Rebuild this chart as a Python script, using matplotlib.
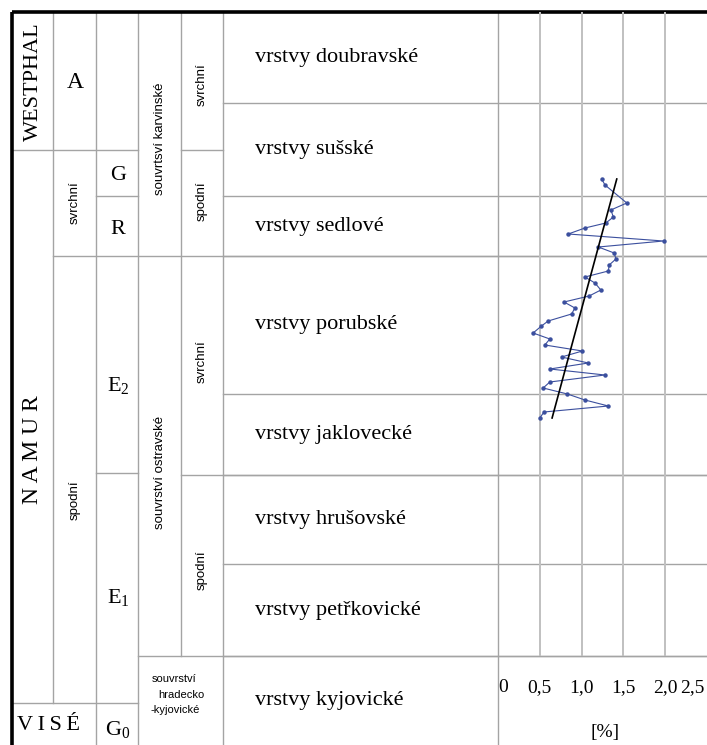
import numpy as np
import matplotlib
matplotlib.use("Agg")
import matplotlib.pyplot as plt
from matplotlib import font_manager as fm

# sample depth in the profile (units of the table height) and measured value [%]
depths = np.array([167, 173, 191, 198, 205, 211, 216, 222, 229, 235, 241, 247, 253,
                   259, 265, 271, 278, 284, 290, 296, 302, 309, 314, 321, 327, 333,
                   339, 345, 351, 357, 363, 370, 376, 382, 388, 394, 400, 406])
values = np.array([1.24, 1.28, 1.54, 1.35, 1.38, 1.29, 1.04, 0.84, 1.98, 1.20, 1.39,
                   1.41, 1.33, 1.32, 1.04, 1.16, 1.23, 1.09, 0.79, 0.92, 0.88, 0.60,
                   0.52, 0.42, 0.62, 0.56, 1.01, 0.76, 1.08, 0.62, 1.28, 0.62, 0.54,
                   0.83, 1.04, 1.32, 0.55, 0.50])

tick_values = [0, 0.5, 1.0, 1.5, 2.0, 2.5]
tick_labels = ["0", "0,5", "1,0", "1,5", "2,0", "2,5"]

# formations (vrstvy) with their lower boundaries
formations = ["vrstvy doubravské", "vrstvy sušské", "vrstvy sedlové", "vrstvy porubské",
              "vrstvy jaklovecké", "vrstvy hrušovské", "vrstvy petřkovické",
              "vrstvy kyjovické"]
formation_bounds = [0, 91, 184, 244, 382, 463, 552, 644, 733]

# pick fonts
names = {f.name for f in fm.fontManager.ttflist}
def pick(cands, default):
    for c in cands:
        if c in names:
            return c
    return default

SERIF = "Liberation Serif"
SANS = pick(["Liberation Sans Narrow", "DejaVu Sans Condensed"], "Liberation Sans")
sans_size = 11 if SANS != "Liberation Sans" else 9.5

plt.rcParams["mathtext.fontset"] = "custom"
plt.rcParams["mathtext.rm"] = SERIF
plt.rcParams["mathtext.it"] = SERIF

fig = plt.figure(figsize=(7.07, 7.45), dpi=100)
ax = fig.add_axes([0, 0, 1, 1])
ax.set_xlim(0, 707)
ax.set_ylim(733, -12)
ax.axis("off")

# column edges (px)
c0, c1, c2, c3, c4, c5, c6, c7 = 12, 53, 96, 138, 181, 223, 498, 707
grey = "#a4a4a4"

vlines = [(c1, 0, 691), (c2, 0, 733), (c3, 0, 733), (c4, 0, 644), (c5, 0, 733), (c6, 0, 733)]
for x, y0, y1 in vlines:
    ax.plot([x, x], [y0, y1], color=grey, lw=1)

hlines = [(138, c0, c3), (138, c4, c5), (184, c2, c3), (244, c1, c7), (461, c2, c3),
          (463, c4, c7), (644, c3, c7), (691, c0, c3)]
for b in formation_bounds[1:-1]:
    hlines.append((b, c5, c7))
for y, x0, x1 in hlines:
    ax.plot([x0, x1], [y, y], color=grey, lw=1)

# outer frame
ax.plot([c0, c7], [0, 0], color="black", lw=2.6, solid_capstyle="butt")
ax.plot([c0, c0], [0, 733], color="black", lw=2.6, solid_capstyle="butt")

# stratigraphic labels
ax.text(33, 70, "WESTPHAL", family=SERIF, fontsize=16, rotation=90, ha="center", va="center")
ax.text(33, 438, "N A M U R", family=SERIF, fontsize=17, rotation=90, ha="center", va="center")
ax.text(17, 713, "V\u2009I\u2009S\u2009É", family=[SERIF, "DejaVu Serif"], fontsize=16,
        ha="left", va="center")

ax.text(75, 71, "A", family=SERIF, fontsize=17, ha="center", va="center")
ax.text(75, 191, "svrchní", family=SANS, fontsize=sans_size, rotation=90, ha="center", va="center")
ax.text(75, 488, "spodní", family=SANS, fontsize=sans_size, rotation=90, ha="center", va="center")

ax.text(118, 163, "G", family=SERIF, fontsize=16, ha="center", va="center")
ax.text(118, 218, "R", family=SERIF, fontsize=16, ha="center", va="center")
ax.text(118, 374, r"$\mathrm{E}_2$", fontsize=16, ha="center", va="center")
ax.text(118, 586, r"$\mathrm{E}_1$", fontsize=16, ha="center", va="center")
ax.text(118, 717, r"$\mathrm{G}_0$", fontsize=16, ha="center", va="center")

ax.text(160, 127, "souvrtsví karvinské", family=SANS, fontsize=sans_size, rotation=90,
        ha="center", va="center")
ax.text(160, 460, "souvrství ostravské", family=SANS, fontsize=sans_size, rotation=90,
        ha="center", va="center")
for x, y, s in [(174, 667, "souvrství"), (181, 683, "hradecko"), (175, 698, "-kyjovické")]:
    ax.text(x, y, s, family=SANS, fontsize=8, ha="center", va="center")

ax.text(202, 73, "svrchní", family=SANS, fontsize=sans_size, rotation=90, ha="center", va="center")
ax.text(202, 189, "spodní", family=SANS, fontsize=sans_size, rotation=90, ha="center", va="center")
ax.text(202, 350, "svrchní", family=SANS, fontsize=sans_size, rotation=90, ha="center", va="center")
ax.text(202, 558, "spodní", family=SANS, fontsize=sans_size, rotation=90, ha="center", va="center")

for name, top, bot in zip(formations, formation_bounds[:-1], formation_bounds[1:]):
    ax.text(255, (top + bot) / 2, name, family=SERIF, fontsize=16, ha="left", va="center")

# measured profile
axc = fig.add_axes([c6 / 707, 0, (c7 - c6) / 707, 1])
axc.set_xlim(0, 2.5)
axc.set_ylim(733, -12)
axc.axis("off")
axc.vlines(tick_values[1:-1], 0, 644, color="#c0c0c0", lw=1.4)

axc.plot(values, depths, color="#3b4f9e", lw=0.8, marker="o", ms=2.2)
coef = np.polyfit(depths, values, 1)
d = np.array([depths.min(), depths.max()])
axc.plot(np.polyval(coef, d), d, color="black", lw=1.2)

for v, lab in zip(tick_values, tick_labels):
    axc.text(min(max(v, 0.06), 2.33), 676, lab, family=SERIF, fontsize=14,
             ha="center", va="center")
axc.text(1.28, 721, "[%]", family=SERIF, fontsize=14, ha="center", va="center")

fig.savefig("out.png", dpi=100)
